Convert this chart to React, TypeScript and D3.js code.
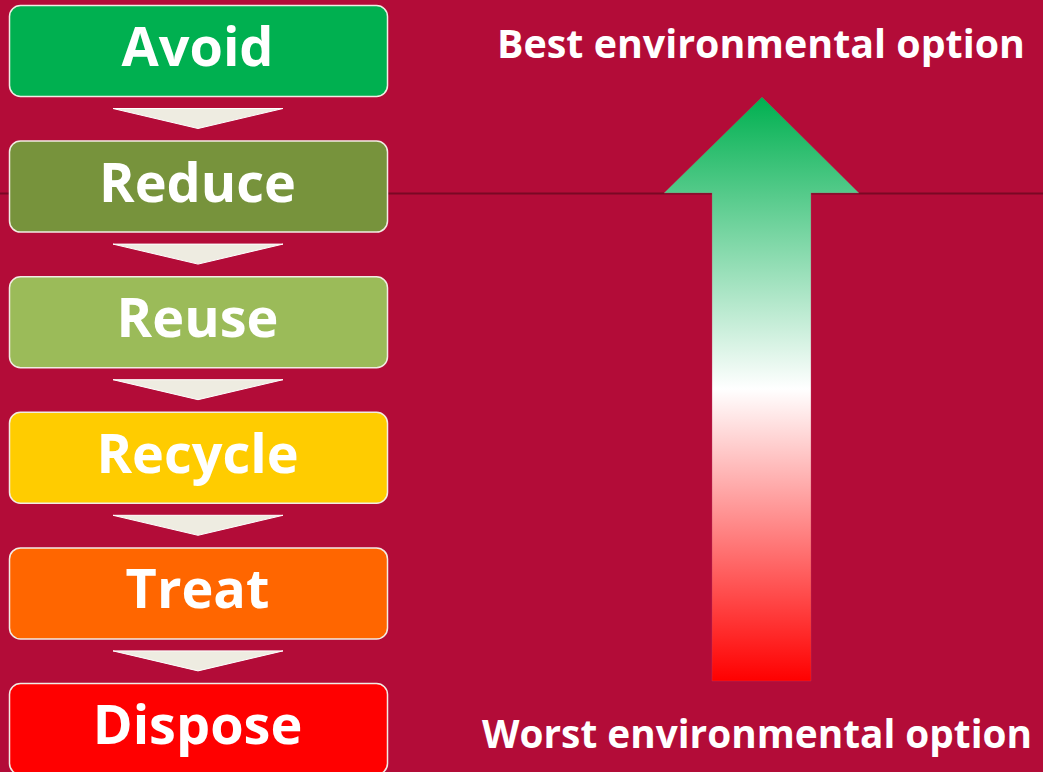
import React, { useEffect, useRef } from 'react';
import * as d3 from 'd3';

const steps = ['Avoid', 'Reduce', 'Reuse', 'Recycle', 'Treat', 'Dispose'];
const stepColors = ['#00B050', '#77933C', '#9BBB59', '#FFCC00', '#FF6600', '#FF0000'];
const topLabel = 'Best environmental option';
const bottomLabel = 'Worst environmental option';
const gradientStops = [
  { offset: 0, color: '#00B050' },
  { offset: 0.5, color: '#FFFFFF' },
  { offset: 1, color: '#FF0000' }
];

const W = 1043;
const H = 772;
const BG = '#B30C38';
const FONT = "'Open Sans', 'DejaVu Sans', sans-serif";

const Hierarchy: React.FC = () => {
  const svgRef = useRef<SVGSVGElement>(null);

  useEffect(() => {
    if (!svgRef.current) return;
    const svg = d3.select(svgRef.current);
    svg.selectAll('*').remove();

    svg.append('rect').attr('width', W).attr('height', H).attr('fill', BG);

    // divider line behind everything
    svg.append('line')
      .attr('x1', 0).attr('x2', W)
      .attr('y1', 193.5).attr('y2', 193.5)
      .attr('stroke', '#7A0824')
      .attr('stroke-width', 2);

    // boxes
    const boxX = 9.5;
    const boxW = 378;
    const boxH = 91;
    const yScale = d3.scaleLinear().domain([0, steps.length - 1]).range([5.5, 683.5]);

    const g = svg.append('g');
    steps.forEach((s, i) => {
      const y = yScale(i);
      g.append('rect')
        .attr('x', boxX).attr('y', y)
        .attr('width', boxW).attr('height', boxH)
        .attr('rx', 11).attr('ry', 11)
        .attr('fill', stepColors[i])
        .attr('stroke', '#F2ECE4')
        .attr('stroke-width', 1.5);

      g.append('text')
        .attr('x', boxX + boxW / 2 - 1)
        .attr('y', y + boxH / 2 + 15)
        .attr('text-anchor', 'middle')
        .attr('fill', '#FFFFFF')
        .attr('font-family', FONT)
        .attr('font-weight', 700)
        .attr('font-size', 54)
        .text(s);

      // connector triangle
      if (i < steps.length - 1) {
        const ty = y + boxH + 12;
        const tri = d3.path();
        tri.moveTo(113, ty);
        tri.lineTo(283, ty);
        tri.lineTo(198, ty + 20);
        tri.closePath();
        g.append('path')
          .attr('d', tri.toString())
          .attr('fill', '#EEECE1')
          .attr('stroke', '#FFFFFF')
          .attr('stroke-width', 1);
      }
    });

    // gradient arrow
    const tipY = 97;
    const headY = 193;
    const baseY = 681;
    const defs = svg.append('defs');
    const grad = defs.append('linearGradient')
      .attr('id', 'arrow-grad')
      .attr('gradientUnits', 'userSpaceOnUse')
      .attr('x1', 0).attr('y1', tipY)
      .attr('x2', 0).attr('y2', baseY);
    gradientStops.forEach(st => {
      grad.append('stop').attr('offset', st.offset).attr('stop-color', st.color);
    });

    const a = d3.path();
    a.moveTo(762, tipY);
    a.lineTo(859, headY);
    a.lineTo(811, headY);
    a.lineTo(811, baseY);
    a.lineTo(712, baseY);
    a.lineTo(712, headY);
    a.lineTo(664, headY);
    a.closePath();
    svg.append('path')
      .attr('d', a.toString())
      .attr('fill', 'url(#arrow-grad)')
      .attr('stroke', '#C04060')
      .attr('stroke-opacity', 0.35)
      .attr('stroke-width', 1);

    // side labels
    svg.append('text')
      .attr('x', 497).attr('y', 58)
      .attr('fill', '#FFFFFF')
      .attr('font-family', FONT)
      .attr('font-weight', 700)
      .attr('font-size', 40)
      .attr('textLength', 528)
      .attr('lengthAdjust', 'spacingAndGlyphs')
      .text(topLabel);

    svg.append('text')
      .attr('x', 482).attr('y', 748)
      .attr('fill', '#FFFFFF')
      .attr('font-family', FONT)
      .attr('font-weight', 700)
      .attr('font-size', 39)
      .attr('textLength', 550)
      .attr('lengthAdjust', 'spacingAndGlyphs')
      .text(bottomLabel);
  }, []);

  return (
    <svg
      ref={svgRef}
      width={W}
      height={H}
      style={{ position: 'absolute', left: 0, top: 0, display: 'block' }}
    />
  );
};

export default function App() {
  return <Hierarchy />;
}
